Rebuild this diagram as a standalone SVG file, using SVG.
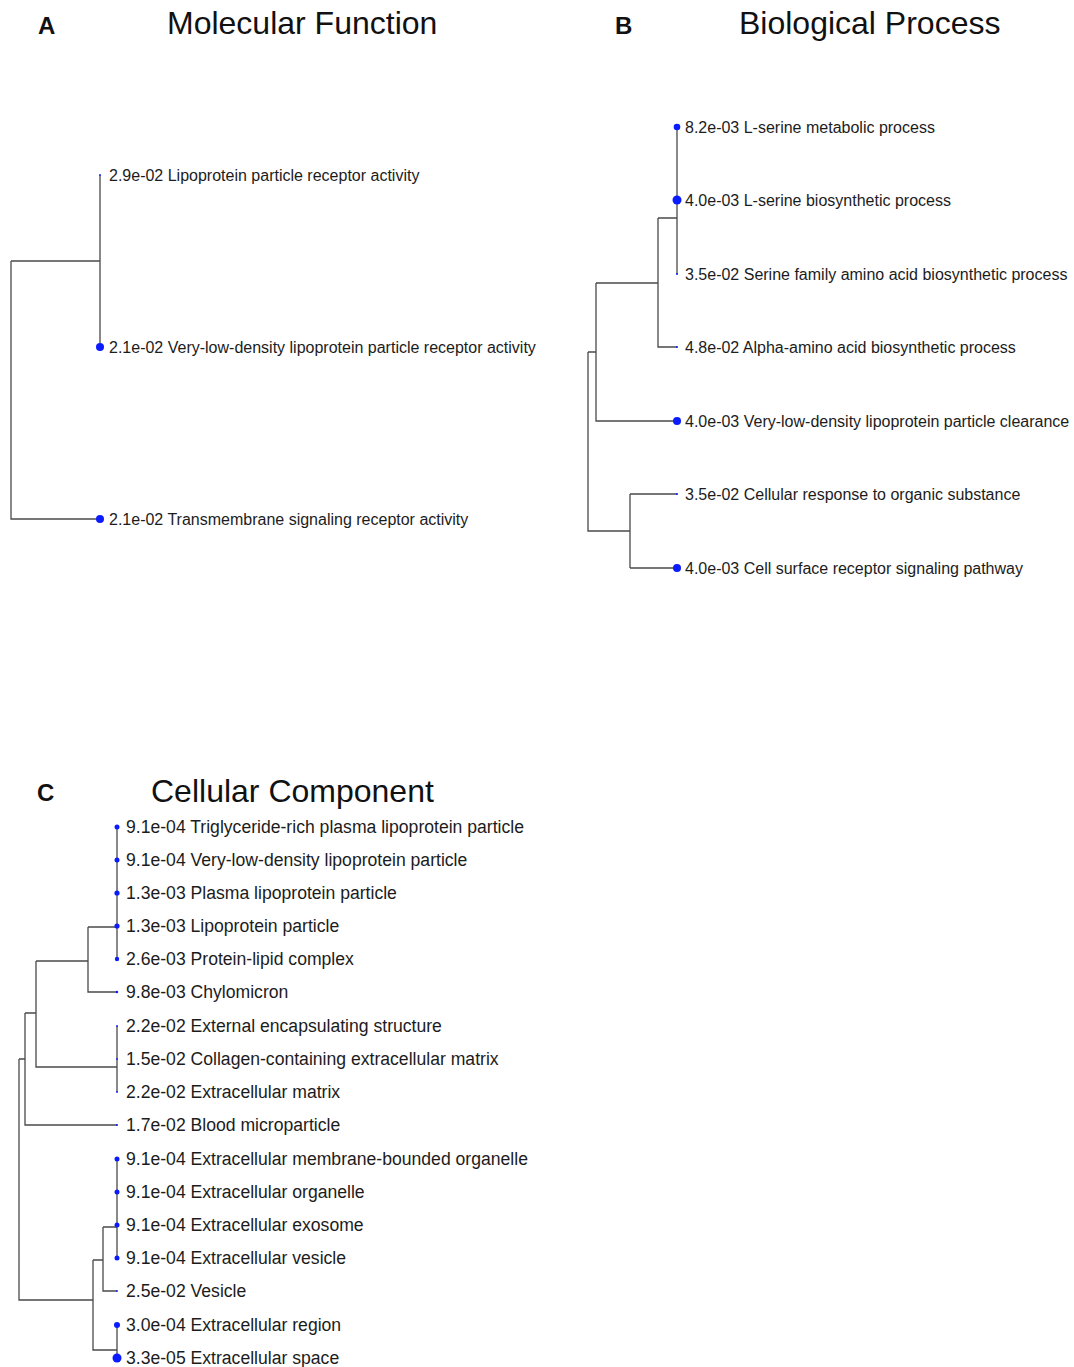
<svg xmlns="http://www.w3.org/2000/svg" width="1074" height="1367" viewBox="0 0 1074 1367">
  <style>
    .edge { fill: none; stroke: #4a4a4a; stroke-width: 1.3; }
    .dot { fill: #0a1cff; }
    .lbl { font-family: "Liberation Sans", Arial, sans-serif; font-size: 16px; fill: #1c1c1c; }
    .lblc { font-family: "Liberation Sans", Arial, sans-serif; font-size: 17.6px; fill: #1c1c1c; }
    .title { font-family: "Liberation Sans", Arial, sans-serif; font-size: 32px; fill: #111; }
    .tag { font-family: "Liberation Sans", Arial, sans-serif; font-size: 24px; font-weight: bold; fill: #111; }
  </style>
  <rect width="1074" height="1367" fill="#ffffff"/>

  <!-- Panel headings -->
  <g id="headings">
    <text class="tag" x="38" y="34">A</text>
    <text class="title" x="167" y="34">Molecular Function</text>
    <text class="tag" x="615" y="34">B</text>
    <text class="title" x="739" y="34">Biological Process</text>
    <text class="tag" x="37" y="801">C</text>
    <text class="title" x="151" y="802">Cellular Component</text>
  </g>

  <!-- Dendrogram branches -->
  <g id="connectors">
    <!-- A: Molecular Function -->
    <path class="edge" d="M100,175 V347 M11,261 H100 M11,261 V519 H100"/>
    <!-- B: Biological Process -->
    <path class="edge" d="M677,127 V274 M658,218 H677 M658,218 V347 H677 M596,283 H658 M596,283 V421 H677 M588,352 H596 M588,352 V531 H630 M630,494 V568 M630,494 H677 M630,568 H677"/>
    <!-- C: Cellular Component -->
    <path class="edge" d="M117,827 V959 M88,927 H117 M88,927 V992 H117 M36,961 H88 M36,961 V1067 H117 M117,1026 V1092 M25,1013 H36 M25,1013 V1125 H117 M19,1059 H25 M19,1059 V1300 H93 M93,1260 V1350 H117 M117,1325 V1358 M93,1260 H103 M103,1227 V1291 H117 M103,1227 H117 M117,1159 V1258"/>
  </g>

  <!-- A nodes -->
  <g id="mf-lipoprotein-receptor"><circle class="dot" cx="100" cy="175" r="0.9"/><text class="lbl" x="109" y="181">2.9e-02 Lipoprotein particle receptor activity</text></g>
  <g id="mf-vldl-receptor"><circle class="dot" cx="100" cy="347" r="4"/><text class="lbl" x="109" y="353">2.1e-02 Very-low-density lipoprotein particle receptor activity</text></g>
  <g id="mf-transmembrane"><circle class="dot" cx="100" cy="519" r="4"/><text class="lbl" x="109" y="525">2.1e-02 Transmembrane signaling receptor activity</text></g>

  <!-- B nodes -->
  <g id="bp-serine-metabolic"><circle class="dot" cx="677" cy="127" r="3.3"/><text class="lbl" x="685" y="133">8.2e-03 L-serine metabolic process</text></g>
  <g id="bp-serine-biosynthetic"><circle class="dot" cx="677" cy="200" r="4.5"/><text class="lbl" x="685" y="206">4.0e-03 L-serine biosynthetic process</text></g>
  <g id="bp-serine-family"><circle class="dot" cx="677" cy="274" r="1"/><text class="lbl" x="685" y="280">3.5e-02 Serine family amino acid biosynthetic process</text></g>
  <g id="bp-alpha-amino"><circle class="dot" cx="677" cy="347" r="1"/><text class="lbl" x="685" y="353">4.8e-02 Alpha-amino acid biosynthetic process</text></g>
  <g id="bp-vldl-clearance"><circle class="dot" cx="677" cy="421" r="4"/><text class="lbl" x="685" y="427">4.0e-03 Very-low-density lipoprotein particle clearance</text></g>
  <g id="bp-organic-response"><circle class="dot" cx="677" cy="494" r="1"/><text class="lbl" x="685" y="500">3.5e-02 Cellular response to organic substance</text></g>
  <g id="bp-cell-surface"><circle class="dot" cx="677" cy="568" r="4"/><text class="lbl" x="685" y="574">4.0e-03 Cell surface receptor signaling pathway</text></g>

  <!-- C nodes -->
  <g id="cc-trl-particle"><circle class="dot" cx="117" cy="827" r="2.5"/><text class="lblc" x="126" y="833">9.1e-04 Triglyceride-rich plasma lipoprotein particle</text></g>
  <g id="cc-vldl-particle"><circle class="dot" cx="117" cy="860" r="2.5"/><text class="lblc" x="126" y="866">9.1e-04 Very-low-density lipoprotein particle</text></g>
  <g id="cc-plasma-lipoprotein"><circle class="dot" cx="117" cy="893" r="2.6"/><text class="lblc" x="126" y="899">1.3e-03 Plasma lipoprotein particle</text></g>
  <g id="cc-lipoprotein"><circle class="dot" cx="117" cy="926" r="2.6"/><text class="lblc" x="126" y="932">1.3e-03 Lipoprotein particle</text></g>
  <g id="cc-protein-lipid"><circle class="dot" cx="117" cy="959" r="2.2"/><text class="lblc" x="126" y="965">2.6e-03 Protein-lipid complex</text></g>
  <g id="cc-chylomicron"><circle class="dot" cx="117" cy="992" r="1.2"/><text class="lblc" x="126" y="998">9.8e-03 Chylomicron</text></g>
  <g id="cc-encapsulating"><circle class="dot" cx="117" cy="1026" r="0.9"/><text class="lblc" x="126" y="1032">2.2e-02 External encapsulating structure</text></g>
  <g id="cc-collagen-matrix"><circle class="dot" cx="117" cy="1059" r="0.9"/><text class="lblc" x="126" y="1065">1.5e-02 Collagen-containing extracellular matrix</text></g>
  <g id="cc-matrix"><circle class="dot" cx="117" cy="1092" r="0.9"/><text class="lblc" x="126" y="1098">2.2e-02 Extracellular matrix</text></g>
  <g id="cc-blood-microparticle"><circle class="dot" cx="117" cy="1125" r="1"/><text class="lblc" x="126" y="1131">1.7e-02 Blood microparticle</text></g>
  <g id="cc-membrane-organelle"><circle class="dot" cx="117" cy="1159" r="2.5"/><text class="lblc" x="126" y="1165">9.1e-04 Extracellular membrane-bounded organelle</text></g>
  <g id="cc-organelle"><circle class="dot" cx="117" cy="1192" r="2.5"/><text class="lblc" x="126" y="1198">9.1e-04 Extracellular organelle</text></g>
  <g id="cc-exosome"><circle class="dot" cx="117" cy="1225" r="2.5"/><text class="lblc" x="126" y="1231">9.1e-04 Extracellular exosome</text></g>
  <g id="cc-vesicle-ec"><circle class="dot" cx="117" cy="1258" r="2.5"/><text class="lblc" x="126" y="1264">9.1e-04 Extracellular vesicle</text></g>
  <g id="cc-vesicle"><circle class="dot" cx="117" cy="1291" r="0.9"/><text class="lblc" x="126" y="1297">2.5e-02 Vesicle</text></g>
  <g id="cc-region"><circle class="dot" cx="117" cy="1325" r="3"/><text class="lblc" x="126" y="1331">3.0e-04 Extracellular region</text></g>
  <g id="cc-space"><circle class="dot" cx="117" cy="1358" r="4.5"/><text class="lblc" x="126" y="1364">3.3e-05 Extracellular space</text></g>
</svg>
